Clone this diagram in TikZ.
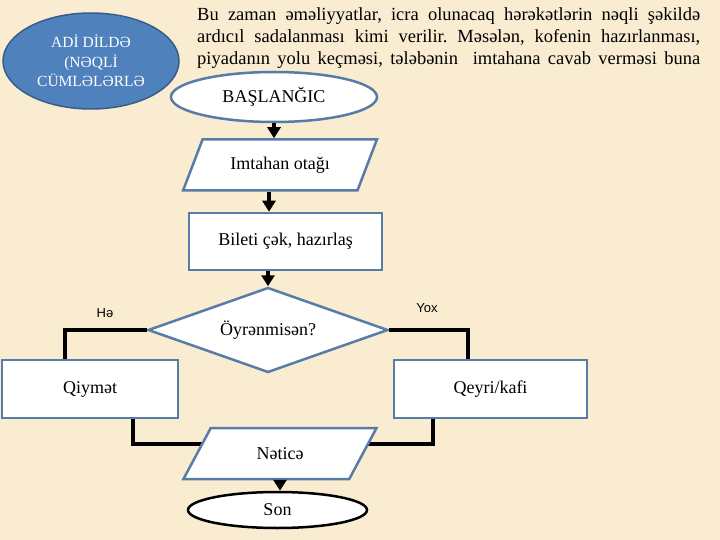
\documentclass[tikz,border=0pt]{standalone}
\usepackage{fontspec}
\setmainfont{Liberation Serif}
\newfontfamily\sansf{Liberation Sans}
\usetikzlibrary{shapes.geometric,arrows.meta}
\definecolor{bg}{RGB}{249,236,208}
\definecolor{bline}{RGB}{88,124,168}
\definecolor{bfill}{RGB}{79,129,189}
\definecolor{bdark}{RGB}{56,93,138}
\frenchspacing
\begin{document}
\begin{tikzpicture}[x=1pt,y=-1pt,
  txt/.style={font=\fontsize{18}{20}\selectfont},
  box/.style={rectangle, draw=bline, line width=2.5, fill=white, inner sep=0, txt},
  para/.style={trapezium, trapezium left angle=52.6, trapezium right angle=127.4,
    trapezium stretches=true, draw=bline, line width=2.5, fill=white, inner sep=0,
    minimum width=194, minimum height=51, txt},
  conn/.style={line width=4, black},
  arr/.style={conn, -{Triangle[length=11pt,width=13pt]}},
  lbl/.style={font=\sansf\fontsize{13}{15}\selectfont, inner sep=0},
  bodyline/.style={anchor=base west, inner sep=0, font=\fontsize{18.5}{21}\selectfont}
]
\fill[bg] (0,0) rectangle (720,540);
\useasboundingbox (0,0) rectangle (720,540);

% paragraph
\node[bodyline] (l1) at (197,21) {\makebox[503pt][s]{Bu zaman əməliyyatlar, icra olunacaq hərəkətlərin nəqli şəkildə}};
\node[bodyline] (l2) at (197,43) {\makebox[503pt][s]{ardıcıl sadalanması kimi verilir. Məsələn, kofenin hazırlanması,}};
\node[bodyline] (l3) at (197,65) {\makebox[503pt][s]{piyadanın yolu keçməsi, tələbənin\ \ imtahana cavab verməsi buna}};

% blue title ellipse
\node[ellipse, fill=bfill, draw=bdark, line width=1.5, minimum width=176, minimum height=96,
  inner sep=0, align=center, text=white, font=\fontsize{15.5}{19.5}\selectfont] (title) at (91,61)
  {ADİ DİLDƏ\\(NƏQLİ\\CÜMLƏLƏRLƏ};

% flowchart nodes
\node[ellipse, draw=bline, line width=2.5, fill=white, minimum width=206, minimum height=50,
  inner sep=0, font=\fontsize{18}{20}\selectfont] (start) at (274,97) {BAŞLANĞIC};
\node[para] (room) at (280,165) {Imtahan otağı};
\node[box, minimum width=193, minimum height=57] (ticket) at (285.5,241.5) {Bileti çək, hazırlaş};
\node[diamond, draw=bline, line width=2.5, fill=white, inner sep=0, aspect=2.8,
  minimum width=240, minimum height=85, txt] (q) at (268,330) {Öyrənmisən?};
\node[box, minimum width=176, minimum height=58] (grade) at (90,389) {Qiymət};
\node[box, minimum width=193, minimum height=58] (fail) at (490.5,389) {Qeyri/kafi};
\node[lbl] (yes) at (105,313) {Hə};
\node[lbl] (no) at (427,308) {Yox};

% connectors behind result parallelogram
\draw[conn] ([xshift=43]grade.south) |- (280,444);
\draw[conn] ([xshift=-57.5]fail.south) |- (280,444);

\node[para] (res) at (280,453.5) {Nəticə};
\node[ellipse, draw=black, line width=2.5, fill=white, minimum width=179, minimum height=36,
  inner sep=0, txt] (son) at (277.5,510) {Son};

\draw[arr] (start.south) -- (start.south |- room.north);
\draw[arr] ([xshift=-11]room.south) -- ([xshift=-11]room.south |- ticket.north);
\draw[arr] (q.north |- ticket.south) -- (q.north);
\draw[conn] (q.west) -| ([xshift=-25]grade.north);
\draw[conn] (q.east) -| ([xshift=-22.5]fail.north);
\draw[arr] (res.south) -- (res.south |- son.north);
\end{tikzpicture}
\end{document}
